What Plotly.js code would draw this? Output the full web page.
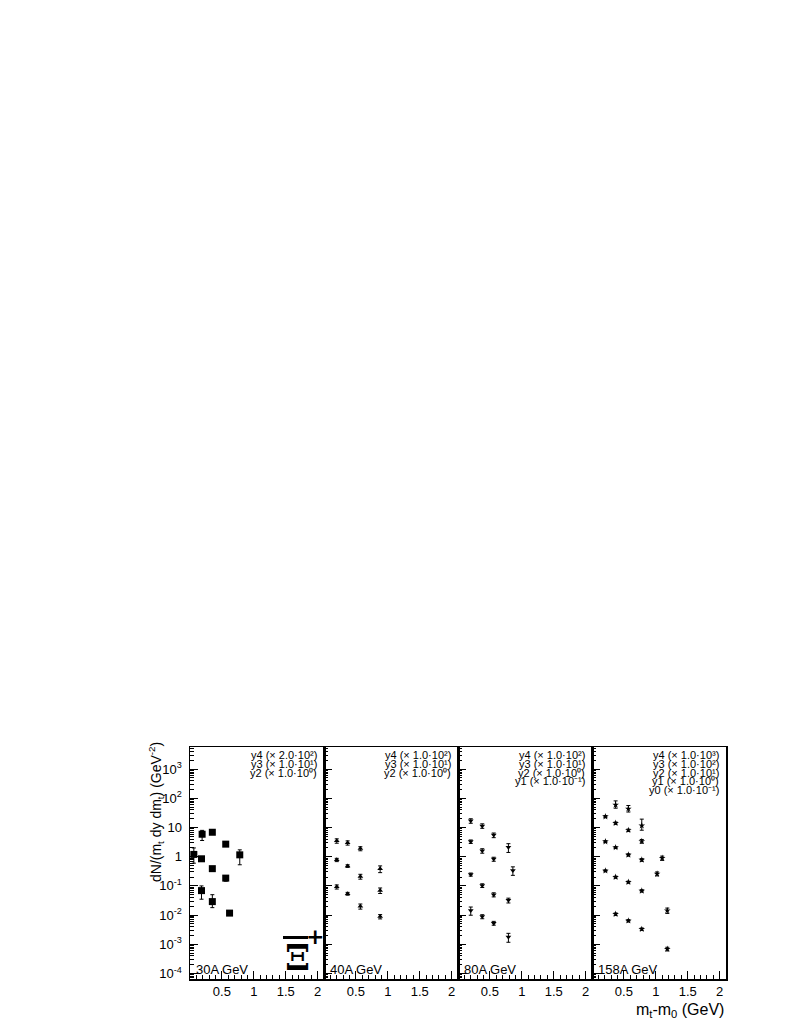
<!DOCTYPE html>
<html>
<head>
<meta charset="utf-8">
<script src="https://cdn.plot.ly/plotly-3.0.1.min.js"></script>
<style>
body { margin: 0; background: #fff; }
#plot { width: 789px; height: 1021px; }
</style>
</head>
<body>
<div id="plot"></div>
<script>
// 30A GeV
var p30_y4_x = [0.06, 0.19, 0.35, 0.56, 0.78];
var p30_y4 = [1.2, 5.9, 6.9, 2.7, 1.16];
var p30_y4_up = [0.8, 2.1, 0.4, 0.5, 0.56];
var p30_y4_dn = [0.6, 2.3, 0.4, 0.4, 0.63];
var p30_y3_x = [0.18, 0.35, 0.56];
var p30_y3 = [0.85, 0.39, 0.185];
var p30_y3_up = [0.05, 0.03, 0.04];
var p30_y3_dn = [0.05, 0.03, 0.04];
var p30_y2_x = [0.18, 0.35, 0.62];
var p30_y2 = [0.069, 0.029, 0.0117];
var p30_y2_up = [0.031, 0.021, 0.002];
var p30_y2_dn = [0.034, 0.011, 0.002];

// 40A GeV
var p40_x = [0.2, 0.37, 0.57, 0.88];
var p40_y4 = [3.5, 3.0, 1.9, 0.385];
var p40_y4_err = [0.6, 0.5, 0.3, 0.1];
var p40_y3 = [0.78, 0.48, 0.21, 0.07];
var p40_y3_err = [0.1, 0.05, 0.04, 0.015];
var p40_y2 = [0.093, 0.054, 0.02, 0.0089];
var p40_y2_err = [0.015, 0.006, 0.004, 0.0015];

// 80A GeV
var p80_y4_x = [0.2, 0.38, 0.56, 0.79];
var p80_y4 = [17, 11.4, 5.5, 2.1];
var p80_y4_err = [3, 2, 1, 0.7];
var p80_y3_x = [0.2, 0.38, 0.56, 0.86];
var p80_y3 = [3.3, 1.6, 0.83, 0.34];
var p80_y3_err = [0.45, 0.28, 0.13, 0.11];
var p80_y2_x = [0.2, 0.38, 0.56, 0.79];
var p80_y2 = [0.246, 0.103, 0.05, 0.032];
var p80_y2_err = [0.03, 0.015, 0.008, 0.006];
var p80_y1_x = [0.2, 0.38, 0.56, 0.79];
var p80_y1 = [0.0144, 0.0089, 0.0053, 0.00177];
var p80_y1_err = [0.0045, 0.0014, 0.0008, 0.0006];

// 158A GeV
var p158_y4_x = [0.37, 0.57, 0.78];
var p158_y4 = [60, 44, 11.7];
var p158_y4_up = [22, 13, 7.7];
var p158_y4_dn = [14, 10, 3.6];
var p158_y3_x = [0.21, 0.37, 0.57, 0.78];
var p158_y3 = [23.8, 14.2, 8.1, 3.4];
var p158_y3_err = [2, 1.2, 0.7, 0.5];
var p158_y2_x = [0.21, 0.37, 0.57, 0.78, 1.1];
var p158_y2 = [3.3, 2.07, 1.16, 0.78, 0.9];
var p158_y2_err = [0.25, 0.15, 0.1, 0.08, 0.15];
var p158_y1_x = [0.21, 0.37, 0.57, 0.78, 1.02, 1.18];
var p158_y1 = [0.33, 0.2, 0.135, 0.068, 0.26, 0.0144];
var p158_y1_err = [0.025, 0.015, 0.01, 0.006, 0.04, 0.003];
var p158_y0_x = [0.37, 0.57, 0.78, 1.18];
var p158_y0 = [0.0108, 0.0064, 0.0033, 0.00069];
var p158_y0_err = [0.001, 0.0006, 0.0003, 0.0001];

var panelLabels = ["30A GeV", "40A GeV", "80A GeV", "158A GeV"];
var scaleLabels = [
	["y4 (× 2.0·10²)", "y3 (× 1.0·10¹)", "y2 (× 1.0·10⁰)"],
	["y4 (× 1.0·10²)", "y3 (× 1.0·10¹)", "y2 (× 1.0·10⁰)"],
	["y4 (× 1.0·10²)", "y3 (× 1.0·10¹)", "y2 (× 1.0·10⁰)", "y1 (× 1.0·10⁻¹)"],
	["y4 (× 1.0·10³)", "y3 (× 1.0·10²)", "y2 (× 1.0·10¹)", "y1 (× 1.0·10⁰)", "y0 (× 1.0·10⁻¹)"]
];
var yTickVals = [1e-4, 1e-3, 1e-2, 1e-1, 1, 10, 100, 1000];
var yTickText = ["10<sup>-4</sup>", "10<sup>-3</sup>", "10<sup>-2</sup>", "10<sup>-1</sup>", "1", "10", "10<sup>2</sup>", "10<sup>3</sup>"];
var xTickVals = [0.5, 1, 1.5, 2];
var xTickText = ["0.5", "1", "1.5", "2"];

function pts(n, x, y, up, dn, sym, size){
	var ax = n === 1 ? "" : String(n);
	return {
		x: x, y: y, type: "scatter", mode: "markers",
		xaxis: "x" + ax, yaxis: "y" + ax,
		marker: {symbol: sym, size: size, color: "black"},
		error_y: {type: "data", symmetric: false, array: up, arrayminus: dn || up,
			color: "black", thickness: 1, width: 2},
		showlegend: false, hoverinfo: "skip"
	};
}

var data = [
	pts(1, p30_y4_x, p30_y4, p30_y4_up, p30_y4_dn, "square", 7),
	pts(1, p30_y3_x, p30_y3, p30_y3_up, p30_y3_dn, "square", 7),
	pts(1, p30_y2_x, p30_y2, p30_y2_up, p30_y2_dn, "square", 7),
	pts(2, p40_x, p40_y4, p40_y4_err, null, "triangle-up", 5),
	pts(2, p40_x, p40_y3, p40_y3_err, null, "triangle-up", 5),
	pts(2, p40_x, p40_y2, p40_y2_err, null, "triangle-up", 5),
	pts(3, p80_y4_x, p80_y4, p80_y4_err, null, "triangle-down", 5),
	pts(3, p80_y3_x, p80_y3, p80_y3_err, null, "triangle-down", 5),
	pts(3, p80_y2_x, p80_y2, p80_y2_err, null, "triangle-down", 5),
	pts(3, p80_y1_x, p80_y1, p80_y1_err, null, "triangle-down", 5),
	pts(4, p158_y4_x, p158_y4, p158_y4_up, p158_y4_dn, "star", 5),
	pts(4, p158_y3_x, p158_y3, p158_y3_err, null, "star", 5),
	pts(4, p158_y2_x, p158_y2, p158_y2_err, null, "star", 5),
	pts(4, p158_y1_x, p158_y1, p158_y1_err, null, "star", 5),
	pts(4, p158_y0_x, p158_y0, p158_y0_err, null, "star", 5)
];

var fam = "Liberation Sans, Arial, sans-serif";
var tickFont = {family: fam, size: 13, color: "black"};
var layout = {
	width: 789, height: 1021,
	margin: {l: 190, r: 63, t: 747, b: 42},
	paper_bgcolor: "white", plot_bgcolor: "white",
	font: tickFont,
	annotations: [],
	shapes: []
};

for(let i = 1; i <= 4; ++i){
	let ax = i === 1 ? "" : String(i);
	layout["xaxis" + ax] = {
		domain: [(i - 1) * 0.25, i * 0.25],
		anchor: "y" + ax,
		range: [0, 2.1],
		tickmode: "array", tickvals: xTickVals, ticktext: xTickText,
		ticks: "inside", ticklen: 8, tickcolor: "black",
		minor: {ticks: "inside", ticklen: 4, dtick: 0.1, tick0: 0, tickcolor: "black"},
		showline: true, linecolor: "black", linewidth: 1.5, mirror: true,
		showgrid: false, zeroline: false,
		tickfont: tickFont
	};
	layout["yaxis" + ax] = {
		domain: [0, 1],
		anchor: "x" + ax,
		type: "log",
		range: [-4.19, 3.76],
		tickmode: "array", tickvals: yTickVals, ticktext: yTickText,
		showticklabels: i === 1,
		ticklabelstandoff: 4,
		ticks: "inside", ticklen: 8, tickcolor: "black",
		minor: {ticks: "inside", ticklen: 4, dtick: "D1", tickcolor: "black"},
		showline: true, linecolor: "black", linewidth: 1.5, mirror: true,
		showgrid: false, zeroline: false,
		tickfont: tickFont
	};
	layout.annotations.push({
		xref: "x" + ax + " domain", yref: "y" + ax + " domain",
		x: 0.03, y: 0.04, xanchor: "left", yanchor: "middle",
		text: panelLabels[i - 1], showarrow: false,
		font: {family: fam, size: 13, color: "black"}
	});
	let lines = scaleLabels[i - 1];
	for(let k = 0; k < lines.length; ++k){
		layout.annotations.push({
			xref: "x" + ax + " domain", yref: "y" + ax + " domain",
			x: 0.965, y: (979 - (755 + k * 8.8)) / 232, xanchor: "right", yanchor: "middle",
			text: lines[k], showarrow: false,
			font: {family: fam, size: 11, color: "black"}
		});
	}
}

// anti-Xi+ symbol
layout.annotations.push({
	xref: "paper", yref: "paper", x: (297 - 190) / 536, y: (979 - 957) / 232,
	xanchor: "center", yanchor: "middle", text: "<b>Ξ</b>", showarrow: false,
	font: {family: "DejaVu Serif, serif", size: 36, color: "black"}
});
layout.annotations.push({
	xref: "paper", yref: "paper", x: (315 - 190) / 536, y: (979 - 936) / 232,
	xanchor: "center", yanchor: "middle", text: "<b>+</b>", showarrow: false,
	font: {family: "DejaVu Sans, sans-serif", size: 22, color: "black"}
});
layout.shapes.push({
	type: "line", xref: "paper", yref: "paper",
	x0: (283 - 190) / 536, x1: (308 - 190) / 536, y0: (979 - 937.5) / 232, y1: (979 - 937.5) / 232,
	line: {color: "black", width: 3}
});

// axis titles
layout.annotations.push({
	xref: "paper", yref: "paper", x: (156 - 190) / 536, y: (979 - 812) / 232,
	xanchor: "center", yanchor: "middle", textangle: -90, showarrow: false,
	text: "dN/(m<sub>t</sub> dy dm<sub>t</sub>) (GeV<sup>-2</sup>)",
	font: {family: fam, size: 14, color: "black"}
});
layout.annotations.push({
	xref: "paper", yref: "paper", x: 1, y: (979 - 1010) / 232,
	xanchor: "right", yanchor: "middle", showarrow: false,
	text: "m<sub>t</sub>-m<sub>0</sub> (GeV)",
	font: {family: fam, size: 16, color: "black"}
});

Plotly.newPlot("plot", data, layout, {staticPlot: true});
</script>
</body>
</html>
